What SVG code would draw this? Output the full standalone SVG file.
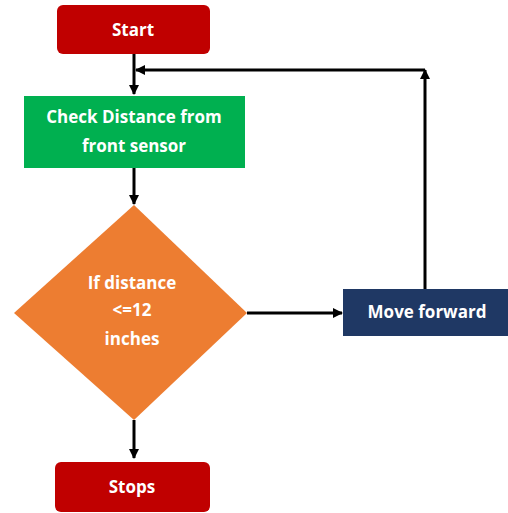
<svg xmlns="http://www.w3.org/2000/svg" width="508" height="513" viewBox="0 0 508 513">
<defs>
<style>
.t{font-family:"Open Sans","Liberation Sans",sans-serif;font-weight:bold;font-size:17px;fill:#fff;text-anchor:middle}
.c{stroke:#000;stroke-width:3;fill:none}
</style>
<marker id="ah" markerWidth="10" markerHeight="10" viewBox="0 0 10 10" refX="9" refY="5" orient="auto" markerUnits="userSpaceOnUse">
<path d="M0,0 L10,5 L0,10 z" fill="#000"/>
</marker>
</defs>
<rect width="508" height="513" fill="#fff"/>
<g id="connectors">
<path class="c" d="M134,54 V94" marker-end="url(#ah)"/>
<path class="c" d="M425,290 V70" marker-end="url(#ah)"/>
<path class="c" d="M425,70 H136" marker-end="url(#ah)"/>
<path class="c" d="M134,168 V204" marker-end="url(#ah)"/>
<path class="c" d="M247,313 H342" marker-end="url(#ah)"/>
<path class="c" d="M134,420 V458" marker-end="url(#ah)"/>
</g>
<g id="start">
<rect x="57" y="5" width="153" height="49" rx="6" fill="#C00000"/>
<text class="t" x="133" y="36">Start</text>
</g>
<g id="check">
<rect x="24" y="96" width="221" height="72" fill="#00B050"/>
<text class="t" x="134" y="123">Check Distance from</text>
<text class="t" x="134" y="152">front sensor</text>
</g>
<g id="decision">
<polygon points="134,205 247,313 134,420 14,313" fill="#ED7D31"/>
<text class="t" x="132" y="289">If distance</text>
<text class="t" x="132" y="316">&lt;=12</text>
<text class="t" x="132" y="345">inches</text>
</g>
<g id="move">
<rect x="343" y="289" width="166" height="47" fill="#1F3864"/>
<text class="t" x="427" y="318">Move forward</text>
</g>
<g id="stops">
<rect x="55" y="462" width="155" height="50" rx="6" fill="#C00000"/>
<text class="t" x="132" y="493">Stops</text>
</g>
</svg>
